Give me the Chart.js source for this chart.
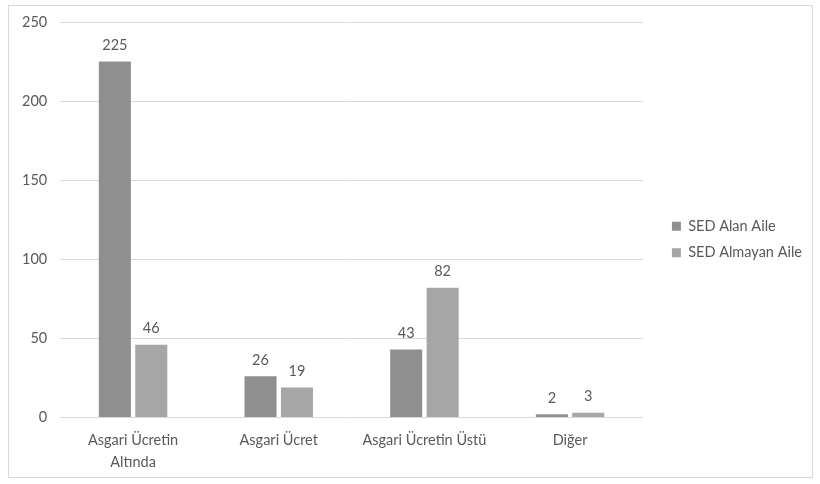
<!DOCTYPE html>
<html>
<head>
<meta charset="utf-8">
<script src="https://cdn.jsdelivr.net/npm/chart.js@4.4.1/dist/chart.umd.min.js"></script>
<style>
  body { margin: 0; background: #fff; }
  #box {
    position: absolute; left: 8px; top: 5px;
    width: 803px; height: 471px;
    border: 1px solid #d9d9d9;
  }
</style>
</head>
<body>
<div id="box"><canvas id="chart"></canvas></div>
<script>
const categories = [["Asgari Ücretin", "Altında"], "Asgari Ücret", "Asgari Ücretin Üstü", "Diğer"];
const sedAlan = [225, 26, 43, 2];
const sedAlmayan = [46, 19, 82, 3];
const seriesNames = ["SED Alan Aile", "SED Almayan Aile"];
const yTicks = [0, 50, 100, 150, 200, 250];

const textColor = "#595959";
const fontFamily = "Lato, 'Open Sans', sans-serif";

// value labels above each bar
const barLabels = {
  id: "barLabels",
  afterLayout(chart) {
    // nudge legend up a little, like the original
    chart.legend.top -= 10;
    chart.legend.bottom -= 10;
  },
  afterDatasetsDraw(chart) {
    const ctx = chart.ctx;
    ctx.save();
    ctx.fillStyle = textColor;
    ctx.font = "14.5px " + fontFamily;
    ctx.textAlign = "center";
    ctx.textBaseline = "bottom";
    chart.data.datasets.forEach((ds, i) => {
      chart.getDatasetMeta(i).data.forEach((bar, j) => {
        ctx.fillText(ds.data[j], bar.x, bar.y - 9);
      });
    });
    ctx.restore();
  }
};

const noVertPad = s => { s.paddingTop = 0; s.paddingBottom = 0; };

new Chart(document.getElementById("chart"), {
  type: "bar",
  data: {
    labels: categories,
    datasets: [
      { label: seriesNames[0], data: sedAlan, backgroundColor: "#8f8f8f" },
      { label: seriesNames[1], data: sedAlmayan, backgroundColor: "#a6a6a6" }
    ]
  },
  options: {
    responsive: true,
    maintainAspectRatio: false,
    animation: false,
    categoryPercentage: 0.5,
    barPercentage: 0.88,
    layout: { padding: { top: 16, right: 0, bottom: 0, left: 0 } },
    plugins: {
      legend: {
        position: "right",
        maxWidth: 220,
        labels: {
          boxWidth: 9,
          boxHeight: 9,
          padding: 12,
          color: textColor,
          font: { family: fontFamily, size: 14.5 }
        }
      },
      tooltip: { enabled: false }
    },
    scales: {
      x: {
        grid: { display: false },
        border: { color: "#d9d9d9" },
        ticks: { color: textColor, font: { family: fontFamily, size: 14.5, lineHeight: 1.5 }, maxRotation: 0, padding: 4 }
      },
      y: {
        min: 0,
        max: yTicks[yTicks.length - 1],
        afterBuildTicks: axis => { axis.ticks = yTicks.map(v => ({ value: v })); },
        afterFit: noVertPad,
        grid: { color: "#d9d9d9", drawTicks: false },
        border: { display: false },
        ticks: { color: textColor, font: { family: fontFamily, size: 14.5 }, padding: 13 }
      },
      // empty spacer between plot and legend
      gap: {
        type: "linear",
        position: "right",
        grid: { display: false },
        border: { display: false },
        ticks: { display: false },
        afterFit: s => { s.width = 17; noVertPad(s); }
      }
    }
  },
  plugins: [barLabels]
});
</script>
</body>
</html>
